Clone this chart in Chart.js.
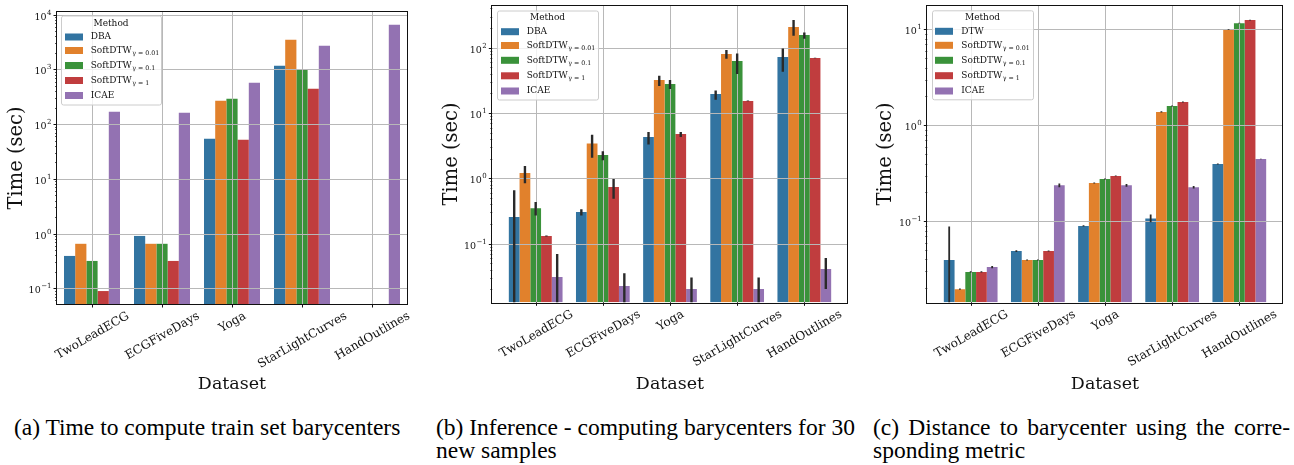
<!DOCTYPE html>
<html><head><meta charset="utf-8">
<script src="https://cdn.jsdelivr.net/npm/chart.js@4.4.0/dist/chart.umd.min.js"></script>
<style>
body{margin:0;background:#fff;width:1294px;height:465px;overflow:hidden;position:relative;}
canvas{position:absolute;top:0;}
.cap{position:absolute;font-family:'Liberation Serif',serif;font-size:23.5px;color:#000;white-space:nowrap;line-height:22.5px;}
.just{text-align:justify;text-align-last:justify;white-space:normal;}
</style></head><body>
<canvas id="ca" width="430" height="400" style="left:0px"></canvas>
<canvas id="cb" width="430" height="400" style="left:430px"></canvas>
<canvas id="cc" width="434" height="400" style="left:860px"></canvas>
<div class="cap" style="left:14px;top:416px">(a) Time to compute train set barycenters</div>
<div class="cap" style="left:436px;top:416px">(b) Inference - computing barycenters for 30</div>
<div class="cap" style="left:436px;top:438.5px">new samples</div>
<div class="cap just" style="left:873px;top:416px;width:417px">(c) Distance to barycenter using the corre-</div>
<div class="cap" style="left:873px;top:438.5px">sponding metric</div>
<script>
// ---------- data ----------
const datasetNames = ['TwoLeadECG', 'ECGFiveDays', 'Yoga', 'StarLightCurves', 'HandOutlines'];
const methodBaseA = ['DBA', 'SoftDTW', 'SoftDTW', 'SoftDTW', 'ICAE'];
const methodBaseC = ['DTW', 'SoftDTW', 'SoftDTW', 'SoftDTW', 'ICAE'];
const methodSubs = ['', 'γ = 0.01', 'γ = 0.1', 'γ = 1', ''];
const legendTitle = 'Method';
const yAxisTitle = 'Time (sec)';
const xAxisTitle = 'Dataset';

// (a) time to compute train set barycenters
const trainDBA      = [0.39, 0.905, 54, 1167, null];
const trainSoft001  = [0.65, 0.65, 267, 3490, null];
const trainSoft01   = [0.316, 0.65, 290, 986, null];
const trainSoft1    = [0.089, 0.316, 51.7, 443, null];
const trainICAE     = [168, 161, 570, 2710, 6560];

// (b) inference time, 30 new samples (mean, error low, error high)
const infDBA      = [0.256, 0.305, 4.29, 19.5, 72];
const infDBALo    = [0, 0.27, 3.31, 16.0, 43];
const infDBAHi    = [0.66, 0.336, 5.12, 22.2, 97.7];
const infSoft001   = [1.21, 3.43, 32, 80, 207];
const infSoft001Lo = [0.84, 2.07, 25.9, 67.9, 152.6];
const infSoft001Hi = [1.55, 4.66, 37.3, 92, 265];
const infSoft01   = [0.347, 2.28, 27.8, 62.5, 156];
const infSoft01Lo = [0.27, 1.89, 23.3, 39.5, 137];
const infSoft01Hi = [0.434, 2.59, 32, 81.9, 171.6];
const infSoft1    = [0.131, 0.736, 4.77, 15.3, 69.5];
const infSoft1Lo  = [0.129, 0.489, 4.3, 15.1, 68.8];
const infSoft1Hi  = [0.133, 0.977, 5.12, 15.5, 70.2];
const infICAE     = [0.0309, 0.0225, 0.0202, 0.0202, 0.0409];
const infICAELo   = [0, 0, 0, 0, 0.0202];
const infICAEHi   = [0.0695, 0.0352, 0.0302, 0.0302, 0.0604];

// (c) distance to barycenter
const distDTW      = [0.0395, 0.049, 0.0894, 0.107, 0.395];
const distDTWLo    = [0, 0.048, 0.088, 0.098, 0.39];
const distDTWHi    = [0.088, 0.050, 0.091, 0.118, 0.40];
const distSoft001   = [0.0196, 0.0395, 0.251, 1.38, 9.92];
const distSoft001Lo = [0.0193, 0.039, 0.248, 1.36, 9.85];
const distSoft001Hi = [0.0199, 0.040, 0.254, 1.40, 10.0];
const distSoft01   = [0.0297, 0.0395, 0.276, 1.59, 11.6];
const distSoft01Lo = [0.0293, 0.039, 0.273, 1.57, 11.5];
const distSoft01Hi = [0.0301, 0.040, 0.279, 1.61, 11.7];
const distSoft1    = [0.0297, 0.049, 0.297, 1.75, 12.5];
const distSoft1Lo  = [0.0293, 0.0485, 0.294, 1.73, 12.4];
const distSoft1Hi  = [0.0301, 0.0495, 0.300, 1.77, 12.6];
const distICAE     = [0.0334, 0.237, 0.237, 0.226, 0.446];
const distICAELo   = [0.0325, 0.226, 0.229, 0.219, 0.443];
const distICAEHi   = [0.0343, 0.248, 0.245, 0.233, 0.449];

const colors = ['#3274a1', '#e1812c', '#3a923a', '#c03d3e', '#9372b2'];

// ---------- drawing helpers ----------
const SERIF = '"DejaVu Serif", serif';
const TXT = '#111';

function drawYTickLabel(ctx, xr, y, exp) {
  const big = '9.5px ' + SERIF, small = '7px ' + SERIF;
  const es = exp < 0 ? '\u2212' + Math.abs(exp) : String(exp);
  ctx.font = small; const we = ctx.measureText(es).width;
  ctx.font = big; const wb = ctx.measureText('10').width;
  ctx.fillStyle = TXT; ctx.textAlign = 'left'; ctx.textBaseline = 'alphabetic';
  const base = y + 4;
  ctx.fillText('10', xr - we - wb, base);
  ctx.font = small; ctx.fillText(es, xr - we + 0.5, base - 5);
}

const customPlugin = {
  id: 'custom',
  afterDatasetsDraw(chart, args, o) {
    const ctx = chart.ctx;
    const {left, right, top, bottom} = chart.chartArea;
    const xs = chart.scales.x, ys = chart.scales.y;
    ctx.save();
    // grid (drawn above bars, as in the reference)
    ctx.strokeStyle = '#b8b8b8'; ctx.lineWidth = 1;
    for (let i = 0; i < datasetNames.length; i++) {
      const px = Math.round(xs.getPixelForValue(i)) + 0.5;
      ctx.beginPath(); ctx.moveTo(px, top); ctx.lineTo(px, bottom); ctx.stroke();
    }
    const eMin = Math.ceil(Math.log10(ys.min)), eMax = Math.floor(Math.log10(ys.max));
    for (let e = eMin; e <= eMax; e++) {
      const py = Math.round(ys.getPixelForValue(Math.pow(10, e))) + 0.5;
      ctx.beginPath(); ctx.moveTo(left, py); ctx.lineTo(right, py); ctx.stroke();
    }
    // error bars
    ctx.beginPath(); ctx.rect(left, top, right - left, bottom - top); ctx.clip();
    chart.data.datasets.forEach((ds, di) => {
      if (!ds.errLo) return;
      const meta = chart.getDatasetMeta(di);
      meta.data.forEach((bar, i) => {
        const lo = ds.errLo[i], hi = ds.errHi[i];
        if (lo == null || hi == null) return;
        const y1 = lo > 0 ? ys.getPixelForValue(lo) : bottom + 5;
        const y2 = ys.getPixelForValue(hi);
        ctx.strokeStyle = '#2a2a2a'; ctx.lineWidth = o.errWidth;
        ctx.beginPath(); ctx.moveTo(bar.x, y1); ctx.lineTo(bar.x, y2); ctx.stroke();
      });
    });
    ctx.restore();
  },
  afterDraw(chart, args, o) {
    const ctx = chart.ctx;
    const {left, right, top, bottom} = chart.chartArea;
    const xs = chart.scales.x, ys = chart.scales.y;
    ctx.save();
    // frame
    ctx.strokeStyle = '#111'; ctx.lineWidth = 1;
    ctx.strokeRect(Math.round(left) - 0.5, Math.round(top) - 0.5, Math.round(right - left) + 1, Math.round(bottom - top) + 1);
    // x ticks + rotated labels
    ctx.font = o.xFont + 'px ' + SERIF;
    ctx.fillStyle = TXT;
    const ang = 30 * Math.PI / 180;
    datasetNames.forEach((name, i) => {
      const px = Math.round(xs.getPixelForValue(i)) + 0.5;
      ctx.beginPath(); ctx.moveTo(px, bottom); ctx.lineTo(px, bottom + 3.5); ctx.stroke();
      const w = ctx.measureText(name).width, h = o.xFont * 0.8;
      const bh = w * Math.sin(ang) + h * Math.cos(ang);
      ctx.save();
      ctx.translate(px, bottom + 7 + bh / 2);
      ctx.rotate(-ang);
      ctx.textAlign = 'center'; ctx.textBaseline = 'middle';
      ctx.fillText(name, 0, 0);
      ctx.restore();
    });
    // y ticks
    const lmin = Math.log10(ys.min), lmax = Math.log10(ys.max);
    for (let e = Math.floor(lmin); e <= Math.floor(lmax); e++) {
      for (let k = 1; k <= 9; k++) {
        const v = k * Math.pow(10, e);
        if (v < ys.min || v > ys.max) continue;
        const py = Math.round(ys.getPixelForValue(v)) + 0.5;
        const len = k === 1 ? 3.5 : 2;
        ctx.lineWidth = k === 1 ? 1 : 0.7;
        ctx.beginPath(); ctx.moveTo(left, py); ctx.lineTo(left - len, py); ctx.stroke();
        if (k === 1) drawYTickLabel(ctx, left - 6, py, e);
      }
    }
    // axis titles
    ctx.fillStyle = TXT;
    ctx.textAlign = 'center'; ctx.textBaseline = 'middle';
    ctx.font = '17.5px ' + SERIF;
    ctx.fillText(xAxisTitle, (left + right) / 2, o.xTitleY);
    ctx.font = '19.5px ' + SERIF;
    ctx.save(); ctx.translate(o.yTitleX, (top + bottom) / 2); ctx.rotate(-Math.PI / 2);
    ctx.fillText(yAxisTitle, 0, 0); ctx.restore();
    // legend
    const L = o.legend;
    ctx.fillStyle = 'rgba(255,255,255,0.8)'; ctx.strokeStyle = '#cccccc'; ctx.lineWidth = 1;
    ctx.beginPath(); ctx.roundRect(L.x + 0.5, L.y + 0.5, L.w, L.h, 2); ctx.fill(); ctx.stroke();
    ctx.fillStyle = TXT; ctx.font = '9px ' + SERIF; ctx.textAlign = 'center'; ctx.textBaseline = 'middle';
    ctx.fillText(legendTitle, L.x + L.w / 2, L.titleY);
    chart.data.datasets.forEach((ds, i) => {
      const ry = L.rows[i];
      ctx.fillStyle = ds.backgroundColor;
      ctx.fillRect(L.px, ry - 3.5, 18, 7);
      ctx.fillStyle = TXT; ctx.textAlign = 'left';
      ctx.font = '9px ' + SERIF;
      ctx.fillText(ds.baseName, L.tx, ry);
      if (ds.sub) {
        const w = ctx.measureText(ds.baseName).width;
        ctx.font = '6.3px ' + SERIF;
        ctx.fillText(ds.sub, L.tx + w + 0.5, ry + 3);
      }
    });
    ctx.restore();
  }
};

function makeChart(id, bases, series, opts) {
  const ds = series.map((s, i) => ({
    label: bases[i] + (methodSubs[i] ? '_' + methodSubs[i] : ''),
    baseName: bases[i], sub: methodSubs[i],
    data: s.v.map((v, j) => ({x: j, y: v})),
    errLo: s.lo || null, errHi: s.hi || null,
    backgroundColor: colors[i], borderWidth: 0,
    categoryPercentage: 0.8, barPercentage: 1.0
  }));
  return new Chart(document.getElementById(id), {
    type: 'bar',
    data: {datasets: ds},
    options: {
      responsive: false, animation: false,
      layout: {padding: opts.padding},
      scales: {
        x: {type: 'linear', display: false, min: opts.xmin, max: opts.xmax, offset: false,
            afterBuildTicks: s => { s.ticks = datasetNames.map((n, i) => ({value: i})); }},
        y: {type: 'logarithmic', display: false, min: opts.ymin, max: opts.ymax}
      },
      plugins: {legend: {display: false}, tooltip: {enabled: false}, custom: opts.custom}
    },
    plugins: [customPlugin]
  });
}

makeChart('ca', methodBaseA, [
  {v: trainDBA}, {v: trainSoft001}, {v: trainSoft01}, {v: trainSoft1}, {v: trainICAE}
], {
  padding: {left: 57, top: 12, right: 23, bottom: 96},
  xmin: -0.5, xmax: 4.5, ymin: 0.0516, ymax: 11200,
  custom: {errWidth: 2.4, xFont: 12, xTitleY: 384, yTitleX: 17,
    legend: {x: 61, y: 15.5, w: 100, h: 89, titleY: 23.7, px: 65, tx: 90.7, rows: [37, 50.5, 65.5, 80.5, 95.5]}}
});

makeChart('cb', methodBaseA, [
  {v: infDBA, lo: infDBALo, hi: infDBAHi},
  {v: infSoft001, lo: infSoft001Lo, hi: infSoft001Hi},
  {v: infSoft01, lo: infSoft01Lo, hi: infSoft01Hi},
  {v: infSoft1, lo: infSoft1Lo, hi: infSoft1Hi},
  {v: infICAE, lo: infICAELo, hi: infICAEHi}
], {
  padding: {left: 62.3, top: 5.7, right: 12.3, bottom: 97.7},
  xmin: -0.646, xmax: 4.646, ymin: 0.01265, ymax: 440,
  custom: {errWidth: 2.4, xFont: 12, xTitleY: 384, yTitleX: 21.7,
    legend: {x: 67, y: 10.5, w: 101, h: 89, titleY: 18, px: 71, tx: 96.7, rows: [31.7, 45.5, 60.3, 75.8, 91]}}
});

makeChart('cc', methodBaseC, [
  {v: distDTW, lo: distDTWLo, hi: distDTWHi},
  {v: distSoft001, lo: distSoft001Lo, hi: distSoft001Hi},
  {v: distSoft01, lo: distSoft01Lo, hi: distSoft01Hi},
  {v: distSoft1, lo: distSoft1Lo, hi: distSoft1Hi},
  {v: distICAE, lo: distICAELo, hi: distICAEHi}
], {
  padding: {left: 67.3, top: 5.7, right: 11.3, bottom: 97.7},
  xmin: -0.646, xmax: 4.646, ymin: 0.01432, ymax: 17.64,
  custom: {errWidth: 1.8, xFont: 12, xTitleY: 384, yTitleX: 26,
    legend: {x: 72, y: 10.3, w: 101, h: 89, titleY: 18, px: 75, tx: 101.3, rows: [31.3, 45.3, 60.3, 75.7, 91]}}
});
</script>
</body></html>
